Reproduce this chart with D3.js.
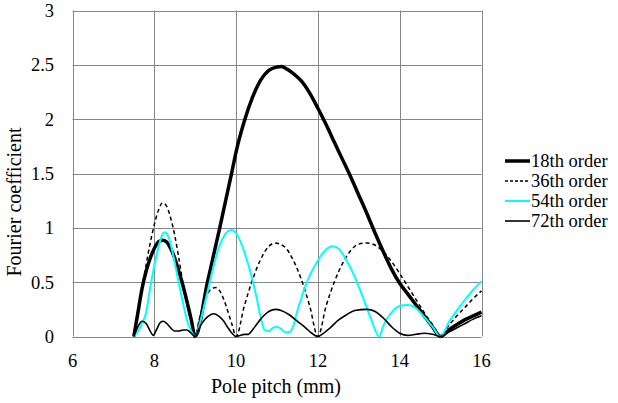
<!DOCTYPE html>
<html>
<head>
<meta charset="utf-8">
<script src="https://cdn.jsdelivr.net/npm/d3@7"></script>
<style>
  body { margin: 0; background: #fff; }
  text { font-family: "Liberation Serif", "Times New Roman", serif; fill: #000; }
</style>
</head>
<body>
<div id="chart-container"></div>
<script>
// pole pitch (mm) and Fourier coefficient per harmonic order
const order18Pitch = [7.5, 7.6, 7.7, 7.8, 7.9, 8.0, 8.1, 8.2, 8.3, 8.4, 8.5, 8.6, 8.7, 8.8, 8.9, 9.0,
  9.3, 9.6, 9.9, 10.0, 10.2, 10.4, 10.6, 10.8, 11.0, 11.1, 11.2, 11.4, 11.6, 11.8, 12.0, 12.2, 12.4,
  12.6, 12.8, 13.0, 13.2, 13.4, 13.6, 13.8, 14.0, 14.2, 14.4, 14.6, 14.8, 15.0,
  15.2, 15.4, 15.6, 15.8, 16.0];
const order18Coef = [0, 0.22, 0.44, 0.6, 0.72, 0.81, 0.87, 0.885, 0.87, 0.81, 0.72, 0.6, 0.47, 0.32, 0.16, 0,
  0.5, 1.0, 1.52, 1.7, 1.98, 2.2, 2.36, 2.45, 2.48, 2.485, 2.47, 2.42, 2.35, 2.24, 2.1, 1.95, 1.79,
  1.63, 1.47, 1.3, 1.13, 0.95, 0.78, 0.62, 0.49, 0.39, 0.29, 0.19, 0.09, 0,
  0.06, 0.11, 0.155, 0.19, 0.225];

const order36Pitch = [7.5, 7.6, 7.7, 7.8, 7.9, 8.0, 8.1, 8.2, 8.3, 8.4, 8.5, 8.6, 8.7, 8.8, 8.9, 9.0,
  9.1, 9.2, 9.3, 9.4, 9.5, 9.6, 9.7, 9.8, 9.9, 10.0,
  10.2, 10.4, 10.6, 10.8, 10.95, 11.2, 11.4, 11.6, 11.8, 12.0,
  12.2, 12.4, 12.6, 12.8, 13.0, 13.2, 13.4, 13.6, 13.8, 14.0, 14.2, 14.4, 14.6, 14.8, 15.0,
  15.2, 15.4, 15.6, 15.8, 16.0];
const order36Coef = [0, 0.22, 0.45, 0.66, 0.86, 1.03, 1.16, 1.23, 1.2, 1.09, 0.93, 0.72, 0.49, 0.3, 0.14, 0,
  0.16, 0.29, 0.39, 0.44, 0.45, 0.42, 0.34, 0.23, 0.11, 0,
  0.28, 0.52, 0.71, 0.83, 0.86, 0.82, 0.7, 0.52, 0.28, 0,
  0.28, 0.5, 0.67, 0.79, 0.85, 0.86, 0.84, 0.78, 0.69, 0.58, 0.46, 0.34, 0.22, 0.11, 0,
  0.1, 0.19, 0.27, 0.35, 0.42];

const order54Pitch = [7.5, 7.6, 7.7, 7.8, 7.9, 8.0, 8.1, 8.2, 8.25, 8.3, 8.4, 8.5, 8.6, 8.7, 8.8, 8.9, 9.0,
  9.1, 9.2, 9.3, 9.4, 9.5, 9.6, 9.7, 9.8, 9.9, 10.0, 10.1, 10.2, 10.3, 10.4, 10.5, 10.6, 10.7,
  10.8, 10.9, 11.0, 11.1, 11.2, 11.3, 11.4, 11.5, 11.6, 11.7, 11.8, 12.0, 12.2, 12.35, 12.5, 12.7,
  12.9, 13.1, 13.3, 13.5,
  13.6, 13.7, 13.8, 13.9, 14.0, 14.2, 14.4, 14.6, 14.8, 15.0,
  15.2, 15.4, 15.6, 15.8, 16.0];
const order54Coef = [0, 0.05, 0.12, 0.22, 0.45, 0.65, 0.82, 0.94, 0.96, 0.95, 0.85, 0.68, 0.49, 0.31, 0.15, 0.05, 0,
  0.1, 0.25, 0.41, 0.57, 0.72, 0.84, 0.92, 0.97, 0.98, 0.95, 0.88, 0.78, 0.66, 0.52, 0.36, 0.18, 0.06,
  0.05, 0.08, 0.09, 0.07, 0.04, 0.04, 0.1, 0.24, 0.36, 0.47, 0.56, 0.7, 0.8, 0.83, 0.81, 0.7,
  0.55, 0.36, 0.16, 0,
  0.1, 0.17, 0.22, 0.26, 0.28, 0.29, 0.26, 0.18, 0.09, 0,
  0.13, 0.24, 0.34, 0.43, 0.51];

const order72Pitch = [7.5, 7.6, 7.7, 7.8, 7.9, 7.97, 8.05, 8.15, 8.22, 8.3, 8.4, 8.5, 8.6, 8.7, 8.8, 8.9, 9.0,
  9.1, 9.2, 9.3, 9.45, 9.6, 9.7, 9.8, 9.9, 10.0, 10.1, 10.2, 10.3, 10.4, 10.5, 10.6, 10.7, 10.8,
  10.97, 11.1, 11.3, 11.5, 11.7, 11.85, 12.0,
  12.1, 12.3, 12.5, 12.7, 12.9, 13.2, 13.4, 13.6, 13.8, 14.0, 14.2, 14.4, 14.6, 14.8, 15.0,
  15.2, 15.4, 15.6, 15.8, 16.0];
const order72Coef = [0, 0.09, 0.14, 0.12, 0.05, 0.01, 0.06, 0.13, 0.14, 0.12, 0.08, 0.05, 0.05, 0.06, 0.06, 0.03, 0,
  0.08, 0.14, 0.18, 0.21, 0.18, 0.14, 0.08, 0.03, 0, 0.01, 0.02, 0.02, 0.06, 0.11, 0.16, 0.2, 0.23,
  0.25, 0.24, 0.2, 0.14, 0.08, 0.03, 0,
  0.02, 0.08, 0.15, 0.2, 0.24, 0.25, 0.23, 0.17, 0.09, 0.03, 0.01, 0.02, 0.03, 0.02, 0,
  0.04, 0.08, 0.12, 0.16, 0.19];

const seriesNames = ['18th order', '36th order', '54th order', '72th order'];
const xTicks = [6, 8, 10, 12, 14, 16];
const yTicks = [0, 0.5, 1, 1.5, 2, 2.5, 3];

const width = 618, height = 403;

const series = [
  { name: seriesNames[0], xs: order18Pitch, ys: order18Coef, colour: '#000', w: 3.5, dash: null },
  { name: seriesNames[1], xs: order36Pitch, ys: order36Coef, colour: '#000', w: 1.5, dash: '4,3' },
  { name: seriesNames[2], xs: order54Pitch, ys: order54Coef, colour: '#00ffff', w: 2, dash: null },
  { name: seriesNames[3], xs: order72Pitch, ys: order72Coef, colour: '#000', w: 1.6, dash: null }
];

var svg = d3.select('#chart-container')
  .append('svg')
  .attr('width', width)
  .attr('height', height);

var x = d3.scaleLinear().domain([6, 16]).range([72.5, 481.5]);
var y = d3.scaleLinear().domain([0, 3]).range([336.5, 10.5]);

// gridlines + frame
var grid = svg.append('g');
grid.selectAll('line.h')
  .data(yTicks)
  .enter()
  .append('line')
  .attr('x1', x(6)).attr('x2', x(16))
  .attr('y1', d => Math.round(y(d)) + 0.5).attr('y2', d => Math.round(y(d)) + 0.5)
  .attr('stroke', '#868686').attr('stroke-width', 1);
grid.selectAll('line.v')
  .data(xTicks)
  .enter()
  .append('line')
  .attr('y1', y(0)).attr('y2', y(3))
  .attr('x1', d => Math.round(x(d)) + 0.5).attr('x2', d => Math.round(x(d)) + 0.5)
  .attr('stroke', '#868686').attr('stroke-width', 1);

// tick labels
svg.append('g').selectAll('text')
  .data(yTicks)
  .enter()
  .append('text')
  .attr('x', 54)
  .attr('y', d => y(d))
  .attr('dy', '0.35em')
  .attr('text-anchor', 'end')
  .style('font-size', '18.5px')
  .text(d => d);

svg.append('g').selectAll('text')
  .data(xTicks)
  .enter()
  .append('text')
  .attr('x', d => x(d))
  .attr('y', 367)
  .attr('text-anchor', 'middle')
  .style('font-size', '18.5px')
  .text(d => d);

// axis titles
svg.append('text')
  .attr('x', 276)
  .attr('y', 393)
  .attr('text-anchor', 'middle')
  .style('font-size', '20px')
  .text('Pole pitch (mm)');

svg.append('text')
  .attr('transform', 'translate(21,202) rotate(-90)')
  .attr('text-anchor', 'middle')
  .style('font-size', '20px')
  .text('Fourier coefficient');

// curves
var line = d3.line()
  .x(d => x(d[0]))
  .y(d => y(d[1]))
  .curve(d3.curveMonotoneX);

svg.append('g').selectAll('path')
  .data(series)
  .enter()
  .append('path')
  .attr('d', s => line(d3.zip(s.xs, s.ys)))
  .attr('fill', 'none')
  .attr('stroke', s => s.colour)
  .attr('stroke-width', s => s.w)
  .attr('stroke-dasharray', s => s.dash)
  .attr('stroke-linejoin', 'round');

// legend
var legend = svg.append('g').selectAll('g')
  .data(series)
  .enter()
  .append('g')
  .attr('transform', (d, i) => 'translate(0,' + (161 + i * 20) + ')');

legend.append('line')
  .attr('x1', 505).attr('x2', 530)
  .attr('y1', 0).attr('y2', 0)
  .attr('stroke', d => d.colour)
  .attr('stroke-width', d => d.w)
  .attr('stroke-dasharray', d => d.dash ? '3,2' : null);

legend.append('text')
  .attr('x', 531)
  .attr('y', 0)
  .attr('dy', '0.35em')
  .style('font-size', '18.5px')
  .text(d => d.name);
</script>
</body>
</html>
